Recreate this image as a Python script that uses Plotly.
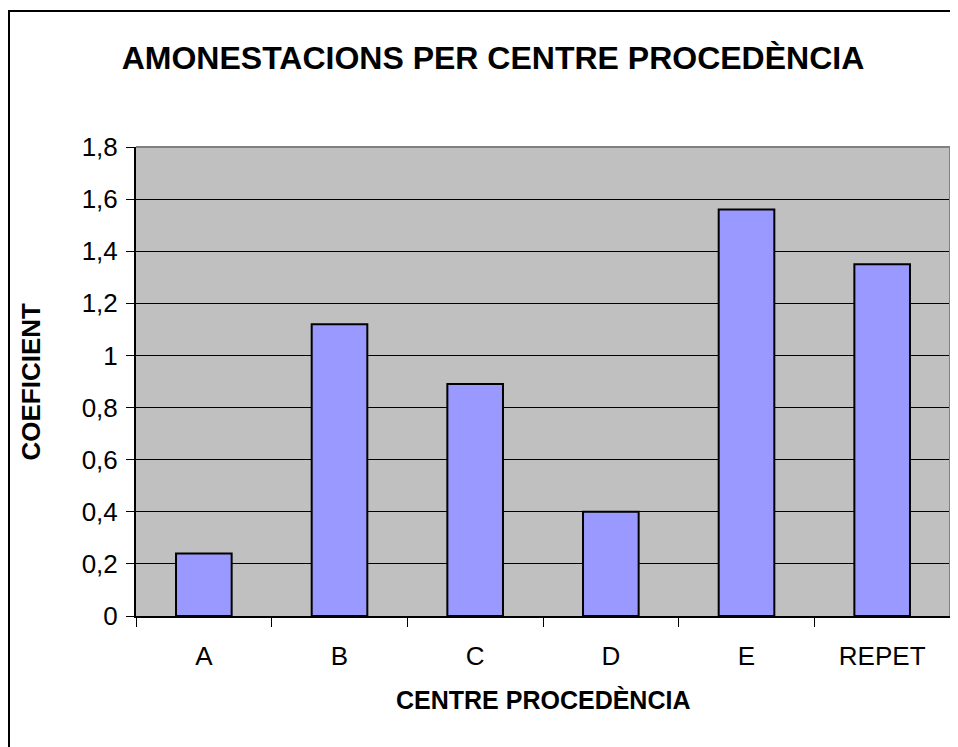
import plotly.graph_objects as go

# dades
centres = ["A", "B", "C", "D", "E", "REPET"]
coeficient = [0.24, 1.12, 0.89, 0.40, 1.56, 1.35]
y_ticks = [0, 0.2, 0.4, 0.6, 0.8, 1, 1.2, 1.4, 1.6, 1.8]

titol = "AMONESTACIONS PER CENTRE PROCEDÈNCIA"
titol_x = "CENTRE PROCEDÈNCIA"
titol_y = "COEFICIENT"

font = "Liberation Sans, Arial, sans-serif"

# la pagina html te 8px de marge al body, per aixo la figura es una mica mes petita
W, H = 950, 739
L, T, B = 128, 139, 131
PW = 814
PH = H - T - B

fig = go.Figure(data=[go.Bar(x=centres, y=coeficient,
	marker=dict(color="#9999FF", line=dict(color="black", width=2)))])

fig.update_layout(
	width=W, height=H,
	margin=dict(l=L, r=W-L-PW, t=T, b=B),
	paper_bgcolor="white", plot_bgcolor="#C0C0C0",
	separators=",.",
	bargap=0.59,
	showlegend=False,
	font=dict(family=font, color="black"),
	title=dict(text="<b>" + titol + "</b>", xref="container", yref="container",
		x=485/W, y=1-50/H, xanchor="center", yanchor="middle",
		font=dict(size=32, family=font, color="black")),
)

fig.update_xaxes(type="category", showline=True, linecolor="black", linewidth=2,
	ticks="outside", tickson="boundaries", ticklen=9, tickcolor="black", tickwidth=1,
	tickfont=dict(size=26), showgrid=False, ticklabelstandoff=16)

fig.update_yaxes(range=[0, 1.8], tickvals=y_ticks, showline=True, linecolor="black", linewidth=2,
	ticks="outside", ticklen=8, tickcolor="black", tickwidth=1,
	tickfont=dict(size=26), showgrid=True, gridcolor="black", gridwidth=1,
	zeroline=False, ticklabelstandoff=3)

# vora gris de l'area de dibuix (dalt i dreta)
fig.add_shape(type="line", xref="paper", yref="paper", x0=0, x1=1, y0=1, y1=1,
	line=dict(color="#808080", width=2))
fig.add_shape(type="line", xref="paper", yref="paper", x0=1, x1=1, y0=0, y1=1,
	line=dict(color="#808080", width=2))

# vora del grafic
fig.add_shape(type="rect", xref="paper", yref="paper",
	x0=(1-L)/PW, x1=(W+20-L)/PW, y0=(PH+20-(H-T))/PH - 0.5, y1=(PH+T-3)/PH,
	line=dict(color="black", width=2), fillcolor="rgba(0,0,0,0)")

fig.add_annotation(text="<b>" + titol_x + "</b>", xref="paper", yref="paper",
	x=0.5, y=(PH-(692-T))/PH, showarrow=False, xanchor="center", yanchor="middle",
	font=dict(size=25, family=font, color="black"))
fig.add_annotation(text="<b>" + titol_y + "</b>", xref="paper", yref="paper",
	x=(22-L)/PW, y=0.5, textangle=-90, showarrow=False, xanchor="center", yanchor="middle",
	font=dict(size=26, family=font, color="black"))

fig.write_html("out.html")
